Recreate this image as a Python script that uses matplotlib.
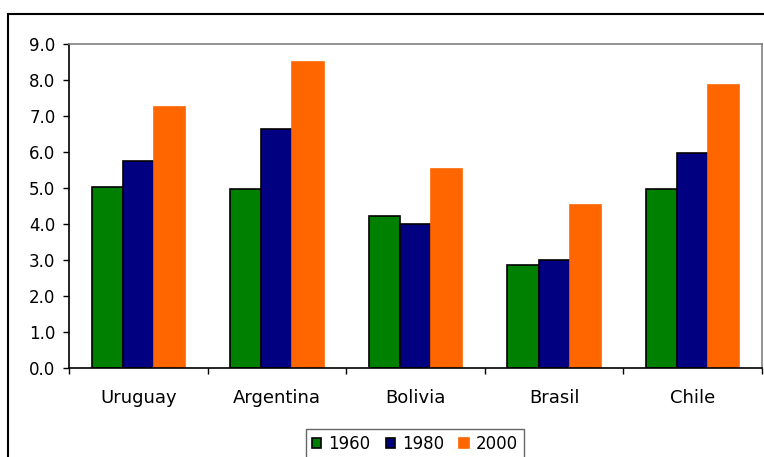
import matplotlib
matplotlib.use("Agg")
import matplotlib.pyplot as plt
import numpy as np
from matplotlib.patches import Rectangle

countries = ["Uruguay", "Argentina", "Bolivia", "Brasil", "Chile"]
years = ["1960", "1980", "2000"]
v1960 = [5.04, 4.98, 4.22, 2.85, 4.98]
v1980 = [5.74, 6.64, 4.00, 2.99, 5.96]
v2000 = [7.25, 8.50, 5.53, 4.53, 7.86]

colors = ["#008000", "#000080", "#FF6600"]
edges = ["black", "black", "#FF6600"]

fig = plt.figure(figsize=(7.64, 4.57), dpi=100)
ax = fig.add_axes([69 / 764, 1 - 368 / 457, (762 - 69) / 764, (368 - 44) / 457])

x = np.arange(len(countries))
w = 0.225
for i, (vals, yr) in enumerate(zip([v1960, v1980, v2000], years)):
    ax.bar(x + (i - 1) * w, vals, w, color=colors[i], edgecolor=edges[i],
           linewidth=1.2, label=yr, zorder=2)

ax.set_xlim(-0.5, len(countries) - 0.5)
ax.set_ylim(0, 9)
ax.set_yticks(np.arange(0, 9.5, 1.0))
ax.set_yticklabels([f"{v:.1f}" for v in np.arange(0, 9.5, 1.0)], fontsize=12)
ax.tick_params(axis="y", direction="out", length=4.3, width=1, pad=5.5, colors="black")

ax.set_xticks(x)
ax.set_xticklabels(countries, fontsize=13)
ax.tick_params(axis="x", which="major", length=0, pad=15)
ax.set_xticks(np.arange(-0.5, len(countries), 1.0), minor=True)
ax.tick_params(axis="x", which="minor", direction="out", length=4.3, width=1)

for s in ["top", "right"]:
    ax.spines[s].set_color("#808080")
    ax.spines[s].set_linewidth(1.2)
for s in ["left", "bottom"]:
    ax.spines[s].set_color("black")
    ax.spines[s].set_linewidth(1.2)

leg = fig.legend(loc="upper center", bbox_to_anchor=(415 / 764, 1 - 429 / 457), ncol=3,
                 fontsize=12, frameon=True, fancybox=False, handlelength=0.55,
                 handleheight=0.55, handletextpad=0.45, columnspacing=0.9,
                 borderpad=0.35, borderaxespad=0)
leg.get_frame().set_edgecolor("#404040")
leg.get_frame().set_linewidth(1)

# outer chart border
fig.patches.append(Rectangle((8 / 764, -0.1), 1.1, 1.1 - 14 / 457,
                             transform=fig.transFigure, fill=False,
                             edgecolor="black", linewidth=1.5))

fig.savefig("out.png", dpi=100)
